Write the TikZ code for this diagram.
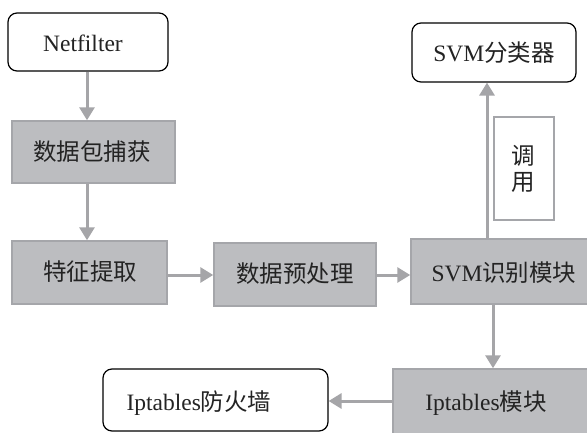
\documentclass[tikz,border=0pt]{standalone}
\usepackage{fontspec}
\setmainfont{Liberation Serif}
\newfontfamily\cjk{Noto Sans CJK SC}
\usetikzlibrary{arrows.meta}
\definecolor{boxfill}{RGB}{188,189,192}
\definecolor{boxline}{RGB}{165,166,170}
\definecolor{arr}{RGB}{165,165,168}
\definecolor{txt}{RGB}{35,35,35}
\begin{document}
\begin{tikzpicture}[x=1pt,y=-1pt,
 graybox/.style={draw=boxline,fill=boxfill,line width=1.5pt,inner sep=0pt},
 roundbox/.style={draw=black,line width=1.2pt,rounded corners=9pt,fill=white,inner sep=0pt},
 callbox/.style={draw=boxline,fill=white,line width=1.5pt,inner sep=0pt},
 lbl/.style={text=txt,font=\fontsize{23.5}{25.5}\selectfont,inner sep=0pt},
 conn/.style={draw=arr,line width=3pt,-{Triangle[width=15pt,length=13pt]}}]
\useasboundingbox (0,0) rectangle (587,432);
\fill[white] (0,0) rectangle (587,432);
% boxes
\node[roundbox,minimum width=160pt,minimum height=58pt] (net) at (88,42) {};
\node[graybox,minimum width=163pt,minimum height=62pt] (cap) at (93.5,152) {};
\node[graybox,minimum width=155pt,minimum height=63pt] (feat) at (89.5,272.5) {};
\node[graybox,minimum width=162pt,minimum height=63pt] (pre) at (295,274.5) {};
\node[graybox,minimum width=189pt,minimum height=65pt] (svm) at (505.5,271.5) {};
\node[roundbox,minimum width=164pt,minimum height=59pt] (cls) at (494,52.5) {};
\node[callbox,minimum width=60pt,minimum height=103pt] (call) at (524,168.5) {};
\node[graybox,minimum width=207pt,minimum height=76pt] (ipt) at (496.5,407) {};
\node[roundbox,minimum width=225pt,minimum height=62pt] (fw) at (215.5,400) {};
% texts
\node[lbl] (tnet) at (83,43) {Netfilter};
\node[lbl] (tcap) at (92,152) {\cjk 数据包捕获};
\node[lbl] (tfeat) at (90,272) {\cjk 特征提取};
\node[lbl] (tpre) at (295,274) {\cjk 数据预处理};
\node[lbl] (tsvm) at (504,273) {SVM{\cjk 识别模块}};
\node[lbl] (tcls) at (494,53) {SVM{\cjk 分类器}};
\node[lbl,align=center] (tcall) at (523,169) {\cjk 调\\\cjk 用};
\node[lbl] (tipt) at (486,403) {Iptables{\cjk 模块}};
\node[lbl] (tfw) at (199,403) {Iptables{\cjk 防火墙}};
% helper coordinates
\coordinate (xa) at (87,0);
\coordinate (xb) at (487,0);
\coordinate (xc) at (493,0);
\coordinate (ya) at (0,275);
\coordinate (yd) at (0,401);
% connectors
\draw[conn] (net.south -| xa) -- (cap.north -| xa);
\draw[conn] (cap.south -| xa) -- (feat.north -| xa);
\draw[conn] (feat.east |- ya) -- (pre.west |- ya);
\draw[conn] (pre.east |- ya) -- (svm.west |- ya);
\draw[conn] (svm.north -| xb) -- (cls.south -| xb);
\draw[conn] (svm.south -| xc) -- (ipt.north -| xc);
\draw[conn] (ipt.west |- yd) -- (fw.east |- yd);
\end{tikzpicture}
\end{document}
